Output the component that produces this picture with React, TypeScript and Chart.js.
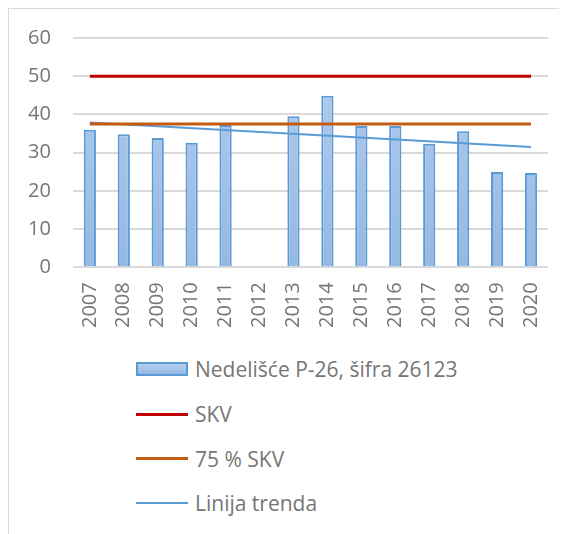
import React, { useEffect, useRef } from "react";
import { Chart, registerables } from "chart.js";

Chart.register(...registerables);

const years = ["2007", "2008", "2009", "2010", "2011", "2012", "2013", "2014", "2015", "2016", "2017", "2018", "2019", "2020"];
const concentrations = [36.0, 34.8, 33.8, 32.6, 37.2, null, 39.5, 44.9, 37.0, 37.0, 32.3, 35.6, 24.9, 24.7];
const skvValues = [50, 50, 50, 50, 50, 50, 50, 50, 50, 50, 50, 50, 50, 50];
const skv75Values = [37.5, 37.5, 37.5, 37.5, 37.5, 37.5, 37.5, 37.5, 37.5, 37.5, 37.5, 37.5, 37.5, 37.5];
const trendValues = [37.9, null, null, null, null, null, null, null, null, null, null, null, null, 31.5];

const seriesLabels = ["Nedelišće P-26, šifra 26123", "SKV", "75 % SKV", "Linija trenda"];
const yMin = 0;
const yMax = 60;
const yStep = 10;

const FONT = "'Open Sans', 'Liberation Sans', sans-serif";
const TEXT = "#767676";

export default function App() {
  const ref = useRef<HTMLCanvasElement | null>(null);

  useEffect(() => {
    if (!ref.current) return;
    const chart = new Chart(ref.current, {
      type: "bar",
      data: {
        labels: years,
        datasets: [
          {
            type: "bar",
            label: seriesLabels[0],
            data: concentrations,
            order: 1,
            backgroundColor: (ctx: any) => {
              const area = ctx.chart.chartArea;
              if (!area) return "#A9C6EA";
              const g = ctx.chart.ctx.createLinearGradient(0, area.top, 0, area.bottom);
              g.addColorStop(0, "#B5CEED");
              g.addColorStop(1, "#94B9E4");
              return g;
            },
            borderColor: "#5B9BD5",
            borderWidth: 2,
            categoryPercentage: 1,
            barPercentage: 0.36,
          } as any,
          {
            type: "line",
            label: seriesLabels[1],
            data: skvValues,
            order: 0,
            borderColor: "#C00000",
            borderWidth: 3,
            pointRadius: 0,
            fill: false,
          } as any,
          {
            type: "line",
            label: seriesLabels[2],
            data: skv75Values,
            order: 0,
            borderColor: "#C55A11",
            borderWidth: 3,
            pointRadius: 0,
            fill: false,
          } as any,
          {
            type: "line",
            label: seriesLabels[3],
            data: trendValues,
            order: 0,
            borderColor: "#5B9BD5",
            borderWidth: 2,
            pointRadius: 0,
            spanGaps: true,
            fill: false,
          } as any,
        ],
      },
      options: {
        responsive: false,
        animation: false,
        layout: { padding: { left: 2, right: 19, top: 0, bottom: 10 } },
        plugins: {
          legend: { display: false },
          tooltip: { enabled: false },
        },
        scales: {
          x: {
            grid: { display: false },
            border: { display: false },
            ticks: {
              color: TEXT,
              font: { family: FONT, size: 20 },
              minRotation: 90,
              maxRotation: 90,
              padding: 7,
              autoSkip: false,
            },
          },
          y: {
            min: yMin,
            max: yMax,
            border: { display: false },
            grid: {
              color: "#D9D9D9",
              tickColor: "rgba(0,0,0,0)",
              lineWidth: 2,
              drawTicks: true,
              tickLength: 5,
            },
            ticks: {
              stepSize: yStep,
              color: TEXT,
              font: { family: FONT, size: 20 },
              padding: 17,
            },
          },
        },
      },
    });
    return () => chart.destroy();
  }, []);

  const legendItem = (i: number) => {
    let icon: React.ReactNode;
    if (i === 0) {
      icon = (
        <div
          style={{
            width: 48,
            height: 10,
            border: "2px solid #5B9BD5",
            background: "linear-gradient(#B5CEED, #94B9E4)",
          }}
        />
      );
    } else {
      const colors = ["", "#C00000", "#C55A11", "#5B9BD5"];
      const widths = [0, 3, 3, 2];
      icon = <div style={{ width: 52, height: widths[i], background: colors[i] }} />;
    }
    return (
      <div key={i} style={{ display: "flex", alignItems: "center", height: 44.7 }}>
        <div style={{ width: 52, display: "flex", alignItems: "center" }}>{icon}</div>
        <span style={{ marginLeft: 7, fontFamily: FONT, fontSize: 21, color: TEXT, whiteSpace: "nowrap" }}>
          {seriesLabels[i]}
        </span>
      </div>
    );
  };

  return (
    <div
      style={{
        position: "relative",
        width: 559,
        height: 530,
        borderTop: "1px solid #D9D9D9",
        borderLeft: "1px solid #D9D9D9",
        boxSizing: "border-box",
        overflow: "hidden",
      }}
    >
      <canvas ref={ref} width={558} height={336} style={{ display: "block" }} />
      <div style={{ position: "absolute", left: 127, top: 338 }}>
        {[0, 1, 2, 3].map(legendItem)}
      </div>
    </div>
  );
}
